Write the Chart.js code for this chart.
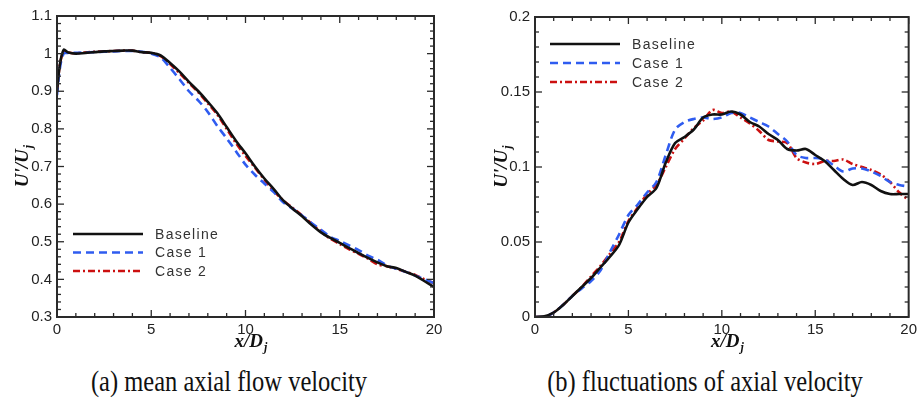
<!DOCTYPE html>
<html>
<head>
<meta charset="utf-8">
<script src="https://cdn.jsdelivr.net/npm/chart.js@4.4.1/dist/chart.umd.min.js"></script>
<style>
    html, body { margin: 0; padding: 0; background: #fff; }
    body { width: 921px; height: 402px; position: relative; overflow: hidden; }
    canvas { position: absolute; top: 0; }
    #meanChart { left: 0; }
    #flucChart { left: 460px; }
    .cap {
        position: absolute; top: 371px; line-height: 24px;
        font-family: 'Liberation Serif', 'Times New Roman', serif; font-size: 24.5px; color: #111;
        white-space: nowrap; transform-origin: 50% 20px; transform: translateX(-50%) scaleY(1.2);
    }
</style>
</head>
<body>
<canvas id="meanChart" width="460" height="360"></canvas>
<canvas id="flucChart" width="461" height="360"></canvas>
<div class="cap" style="left:229px">(a) mean axial flow velocity</div>
<div class="cap" style="left:705px">(b) fluctuations of axial velocity</div>
<script>
'use strict';
// ── data ──
const LABELS = ['Baseline', 'Case 1', 'Case 2'];
const X_TICKS = [0, 5, 10, 15, 20];
const MEAN_Y_TICKS = [0.3, 0.4, 0.5, 0.6, 0.7, 0.8, 0.9, 1, 1.1];
const FLUC_Y_TICKS = [0, 0.05, 0.1, 0.15, 0.2];

// (a) mean axial velocity U/Uj
const MEAN_X = [0, 0.15, 0.35, 0.6, 1, 1.5, 2, 2.5, 3, 3.5, 4, 4.5, 5, 5.5, 6, 6.5, 7, 7.5, 8, 8.5, 9, 9.5,
    10, 10.5, 11, 11.5, 12, 12.5, 13, 13.5, 14, 14.5, 15, 15.5, 16, 16.5, 17, 17.5, 18, 18.5, 19, 19.5, 20];
const MEAN_BASE = [0.90, 0.97, 1.01, 1.003, 1.0, 1.002, 1.004, 1.006, 1.007, 1.008, 1.008, 1.004, 1.002, 0.995,
    0.975, 0.952, 0.925, 0.9, 0.872, 0.842, 0.805, 0.768, 0.735, 0.7, 0.668, 0.64, 0.61, 0.588, 0.568, 0.545,
    0.525, 0.51, 0.497, 0.483, 0.47, 0.457, 0.445, 0.435, 0.43, 0.42, 0.41, 0.395, 0.38];
const MEAN_CASE1 = [0.89, 0.96, 1.0, 1.002, 1.002, 1.003, 1.004, 1.005, 1.006, 1.007, 1.007, 1.005, 1.0, 0.99,
    0.962, 0.932, 0.9, 0.875, 0.845, 0.808, 0.775, 0.74, 0.705, 0.678, 0.655, 0.632, 0.605, 0.588, 0.57, 0.55,
    0.532, 0.513, 0.502, 0.49, 0.478, 0.463, 0.452, 0.437, 0.428, 0.42, 0.41, 0.4, 0.39];
const MEAN_CASE2 = [0.90, 0.97, 1.005, 1.003, 1.001, 1.003, 1.005, 1.006, 1.007, 1.008, 1.008, 1.004, 1.002, 0.993,
    0.972, 0.948, 0.922, 0.897, 0.868, 0.838, 0.8, 0.762, 0.728, 0.697, 0.665, 0.635, 0.61, 0.59, 0.57, 0.548,
    0.528, 0.508, 0.494, 0.48, 0.468, 0.455, 0.44, 0.435, 0.428, 0.42, 0.412, 0.4, 0.39];

// (b) axial velocity fluctuations U'/Uj
const FLUC_X = [0, 0.5, 1, 1.5, 2, 2.5, 3, 3.5, 4, 4.5, 5, 5.5, 6, 6.5, 7, 7.5, 8, 8.5, 9, 9.5, 10,
    10.5, 11, 11.5, 12, 12.5, 13, 13.5, 14, 14.5, 15, 15.5, 16, 16.5, 17, 17.5, 18, 18.5, 19, 19.5, 20];
const FLUC_BASE = [0, 0.0005, 0.003, 0.008, 0.014, 0.02, 0.026, 0.033, 0.04, 0.048, 0.063, 0.072, 0.08, 0.086,
    0.103, 0.116, 0.12, 0.125, 0.133, 0.135, 0.135, 0.137, 0.135, 0.13, 0.127, 0.122, 0.118, 0.112, 0.111, 0.112,
    0.108, 0.104, 0.098, 0.092, 0.088, 0.09, 0.088, 0.084, 0.082, 0.082, 0.082];
const FLUC_CASE1 = [0, 0, 0.003, 0.008, 0.014, 0.019, 0.024, 0.031, 0.043, 0.055, 0.068, 0.075, 0.083, 0.09,
    0.108, 0.125, 0.13, 0.132, 0.133, 0.132, 0.133, 0.136, 0.136, 0.133, 0.13, 0.127, 0.122, 0.117, 0.108, 0.106,
    0.106, 0.105, 0.101, 0.097, 0.099, 0.099, 0.097, 0.094, 0.09, 0.088, 0.087];
const FLUC_CASE2 = [0, 0, 0.003, 0.008, 0.014, 0.02, 0.027, 0.034, 0.042, 0.05, 0.064, 0.073, 0.082, 0.088,
    0.1, 0.112, 0.119, 0.126, 0.131, 0.138, 0.136, 0.137, 0.133, 0.129, 0.124, 0.118, 0.117, 0.116, 0.106, 0.103,
    0.102, 0.104, 0.104, 0.105, 0.102, 0.1, 0.098, 0.095, 0.09, 0.083, 0.078];

const COLORS = ['#111111', '#2f5cf0', '#cc1010'];
const DASHES = [[], [8, 5], [7, 3, 2, 3]];

const TICK_FONT = { family: "'Liberation Sans', Arial, sans-serif", size: 15 };
const TICK_COLOR = '#222';

// 枠・内向き目盛り
const frameTicks = {
    id: 'frameTicks',
    afterDatasetsDraw(chart, args, opts) {
        const { ctx, chartArea: a, scales: { x, y } } = chart;
        ctx.save();
        ctx.strokeStyle = '#2a2a2a';
        ctx.lineWidth = 1.3;
        ctx.setLineDash([]);
        const seg = (x1, y1, x2, y2) => { ctx.beginPath(); ctx.moveTo(x1, y1); ctx.lineTo(x2, y2); ctx.stroke(); };
        const nx = Math.round((x.max - x.min) / opts.xMinor);
        for (let i = 0; i <= nx; i++) {
            const px = x.getPixelForValue(x.min + i * opts.xMinor);
            const len = i % 5 === 0 ? 7 : 4;
            seg(px, a.bottom, px, a.bottom - len);
            seg(px, a.top, px, a.top + len);
        }
        const ny = Math.round((y.max - y.min) / opts.yMinor);
        for (let i = 0; i <= ny; i++) {
            const py = y.getPixelForValue(y.min + i * opts.yMinor);
            const len = i % 5 === 0 ? 7 : 4;
            seg(a.left, py, a.left + len, py);
            seg(a.right, py, a.right - len, py);
        }
        ctx.lineWidth = 2;
        ctx.strokeRect(a.left, a.top, a.right - a.left, a.bottom - a.top);
        ctx.restore();
    },
};

// 軸タイトル（下付き j）
const axisTitles = {
    id: 'axisTitles',
    afterDraw(chart, args, opts) {
        const { ctx, chartArea: a } = chart;
        const big = "italic bold 19px 'Liberation Serif', 'Times New Roman', serif";
        const small = "italic bold 12px 'Liberation Serif', 'Times New Roman', serif";
        const drawSub = (main, sub, cx, cy) => {
            ctx.font = big;
            const w1 = ctx.measureText(main).width;
            ctx.font = small;
            const w2 = ctx.measureText(sub).width;
            let x0 = cx - (w1 + w2) / 2;
            ctx.font = big;
            ctx.fillText(main, x0, cy);
            ctx.font = small;
            ctx.fillText(sub, x0 + w1 + 1, cy + 4);
        };
        ctx.save();
        ctx.fillStyle = '#111';
        ctx.textBaseline = 'alphabetic';
        ctx.textAlign = 'left';
        drawSub(opts.xMain, opts.xSub, (a.left + a.right) / 2 + opts.xShift, opts.xBase);
        ctx.translate(opts.yBase, (a.top + a.bottom) / 2);
        ctx.rotate(-Math.PI / 2);
        drawSub(opts.yMain, opts.ySub, 0, 0);
        ctx.restore();
    },
};

// 凡例（枠内）
const innerLegend = {
    id: 'innerLegend',
    afterDraw(chart, args, opts) {
        const { ctx } = chart;
        ctx.save();
        chart.data.datasets.forEach((d, i) => {
            const y = opts.y + i * opts.gap;
            ctx.strokeStyle = d.borderColor;
            ctx.lineWidth = d.borderWidth;
            ctx.setLineDash(d.borderDash || []);
            ctx.beginPath();
            ctx.moveTo(opts.x, y);
            ctx.lineTo(opts.x + opts.len, y);
            ctx.stroke();
            ctx.setLineDash([]);
            ctx.font = "14px 'Liberation Sans', Arial, sans-serif";
            ctx.letterSpacing = '1.3px';
            ctx.fillStyle = '#333';
            ctx.textBaseline = 'middle';
            ctx.fillText(d.label, opts.x + opts.len + 12, y + 1);
        });
        ctx.restore();
    },
};

function makeSet(label, xs, ys, i) {
    return {
        label,
        data: xs.map((x, k) => ({ x, y: ys[k] })),
        borderColor: COLORS[i],
        borderWidth: 2.6,
        borderDash: DASHES[i],
        pointRadius: 0,
        tension: 0.3,
        fill: false,
    };
}

function makeChart(id, xs, series, yTicks, cfg) {
    const yMin = yTicks[0], yMax = yTicks[yTicks.length - 1];
    return new Chart(document.getElementById(id), {
        type: 'line',
        data: { datasets: series.map((s, i) => makeSet(LABELS[i], xs, s, i)) },
        options: {
            responsive: false,
            animation: false,
            layout: { padding: cfg.padding },
            scales: {
                x: {
                    type: 'linear', min: X_TICKS[0], max: X_TICKS[X_TICKS.length - 1],
                    afterBuildTicks: (s) => { s.ticks = X_TICKS.map(v => ({ value: v })); },
                    ticks: { font: TICK_FONT, color: TICK_COLOR, padding: 4, maxRotation: 0, autoSkip: false },
                    grid: { display: false, drawTicks: false },
                    border: { display: false },
                    afterFit: (s) => { s.height = cfg.xHeight; },
                },
                y: {
                    type: 'linear', min: yMin, max: yMax,
                    afterBuildTicks: (s) => { s.ticks = yTicks.map(v => ({ value: v })); },
                    ticks: { font: TICK_FONT, color: TICK_COLOR, padding: 5, autoSkip: false,
                             callback: (v) => String(Math.round(v * 100) / 100) },
                    grid: { display: false, drawTicks: false },
                    border: { display: false },
                    afterFit: (s) => { s.width = cfg.yWidth; },
                },
            },
            plugins: {
                legend: { display: false },
                tooltip: { enabled: false },
                frameTicks: { xMinor: 1, yMinor: cfg.yMinor },
                axisTitles: { xMain: 'x/D', xSub: 'j', yMain: "U'/U", ySub: 'j',
                              xShift: 5, xBase: 347, yBase: cfg.yTitleX },
                innerLegend: cfg.legend,
            },
        },
        plugins: [frameTicks, axisTitles, innerLegend],
    });
}

makeChart('meanChart', MEAN_X, [MEAN_BASE, MEAN_CASE1, MEAN_CASE2], MEAN_Y_TICKS, {
    padding: { top: 16, right: 26, left: 0, bottom: 0 },
    xHeight: 43, yWidth: 57, yMinor: 0.02, yTitleX: 28,
    legend: { x: 73, y: 234, gap: 18.5, len: 70 },
});
makeChart('flucChart', FLUC_X, [FLUC_BASE, FLUC_CASE1, FLUC_CASE2], FLUC_Y_TICKS, {
    padding: { top: 17, right: 10, left: 0, bottom: 0 },
    xHeight: 43, yWidth: 75, yMinor: 0.01, yTitleX: 47,
    legend: { x: 90, y: 44, gap: 19, len: 70 },
});
</script>
</body>
</html>
